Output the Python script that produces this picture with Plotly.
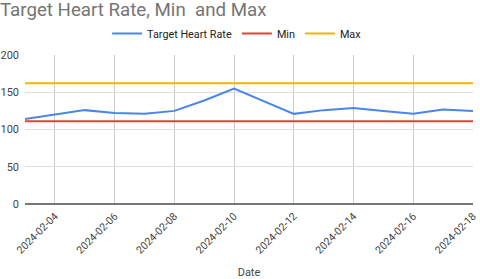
import plotly.graph_objects as go

dates = ["2024-02-03", "2024-02-04", "2024-02-05", "2024-02-06", "2024-02-07",
         "2024-02-08", "2024-02-09", "2024-02-10", "2024-02-11", "2024-02-12",
         "2024-02-13", "2024-02-14", "2024-02-15", "2024-02-16", "2024-02-17",
         "2024-02-18"]
target_hr = [114, 120, 126, 122, 121, 125, 139, 155, 138, 121, 126, 129, 125, 121, 127, 125]
min_hr = [111] * len(dates)
max_hr = [162] * len(dates)

fig = go.Figure()
fig.add_trace(go.Scatter(x=dates, y=target_hr, mode="lines", name="Target Heart Rate",
                         line=dict(color="#4a86e8", width=2)))
fig.add_trace(go.Scatter(x=dates, y=min_hr, mode="lines", name="Min",
                         line=dict(color="#db4437", width=2)))
fig.add_trace(go.Scatter(x=dates, y=max_hr, mode="lines", name="Max",
                         line=dict(color="#f4b400", width=2)))

fig.update_layout(
    width=480, height=279,
    margin=dict(l=25, r=7, t=55, b=75, autoexpand=False),
    paper_bgcolor="white", plot_bgcolor="white",
    font=dict(family="Roboto, Arial, sans-serif", color="#444", size=11),
    title=dict(text="Target Heart Rate, Min  and Max", x=0.0, xanchor="left",
               xref="container", yref="container",
               y=1.0, yanchor="top", pad=dict(t=3, l=0),
               font=dict(size=18.7, color="#757575")),
    legend=dict(orientation="h", x=0.494, xanchor="center", xref="container",
                y=0.88, yanchor="middle",
                yref="container", font=dict(size=10.8, color="#222"),
                itemwidth=30),
    showlegend=True,
)
fig.update_xaxes(
    range=["2024-02-03", "2024-02-18"],
    tickvals=["2024-02-04", "2024-02-06", "2024-02-08", "2024-02-10",
              "2024-02-12", "2024-02-14", "2024-02-16", "2024-02-18"],
    tickformat="%Y-%m-%d", tickangle=-45, automargin=False,
    showgrid=True, gridcolor="#cccccc", gridwidth=1,
    showline=False, zeroline=False, ticks="", ticklabelstandoff=3,
    tickfont=dict(size=10.5, color="#444"),
    title=dict(text="Date", font=dict(size=11, color="#444"), standoff=17),
)
fig.update_yaxes(
    range=[0, 200], tickvals=[0, 50, 100, 150, 200], automargin=False,
    showgrid=True, gridcolor="#dddddd", gridwidth=1,
    zeroline=True, zerolinecolor="#777777", zerolinewidth=1.5,
    showline=False, ticks="", ticklabelstandoff=5,
    tickfont=dict(size=11, color="#444"),
)

fig.write_html("out.html", config={"displayModeBar": False},
               post_script="document.body.style.margin='0';document.body.style.overflow='hidden';")
